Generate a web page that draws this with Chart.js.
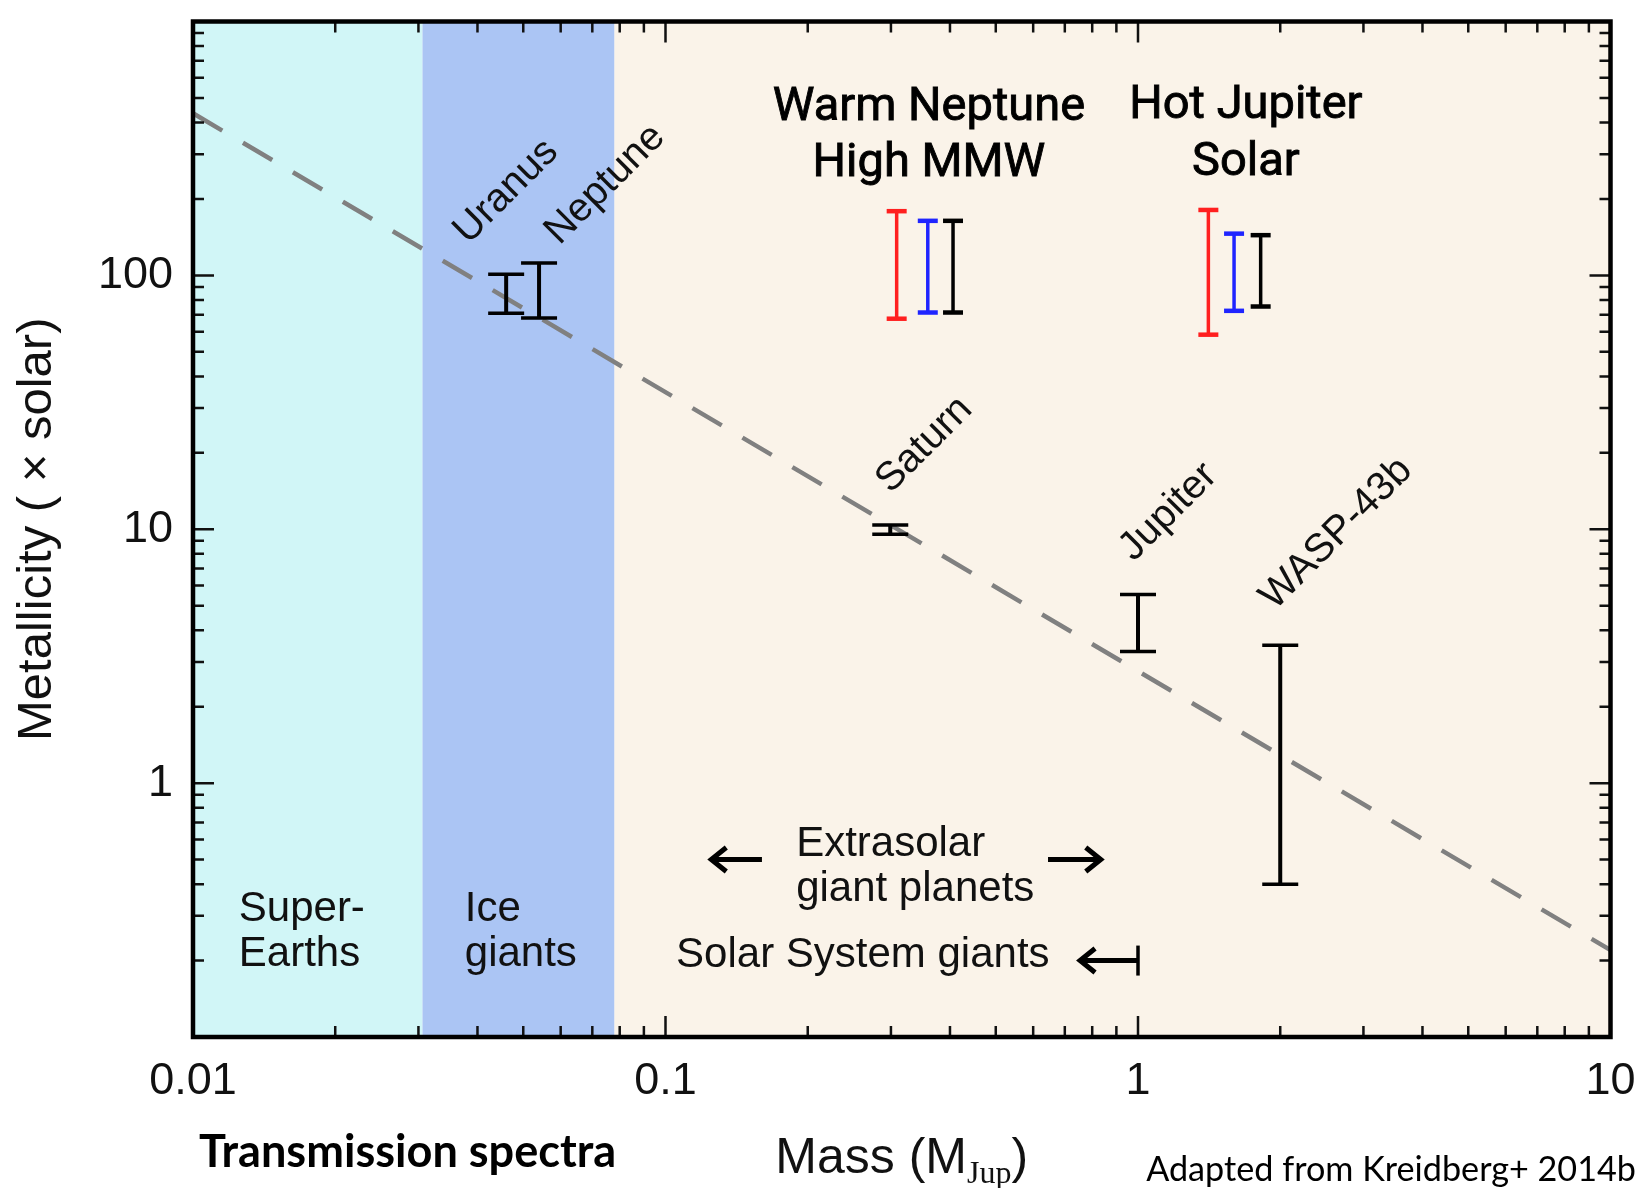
<!DOCTYPE html>
<html>
<head>
<meta charset="utf-8">
<script src="https://cdn.jsdelivr.net/npm/chart.js@4.4.1/dist/chart.umd.min.js"></script>
<style>
  html, body { margin: 0; padding: 0; background: #ffffff; }
  #wrap { width: 1643px; height: 1188px; position: relative; }
  canvas { display: block; }
</style>
</head>
<body>
<div id="wrap"><canvas id="c" width="1643" height="1188" style="width:1643px;height:1188px"></canvas></div>
<script>
// ---------------- DATA ----------------
// Mass ranges of the shaded regions (M_Jup)
const regionNames = ['Super-Earths', 'Ice giants', 'Giant planets'];
const regionFrom  = [0.01, 0.0306, 0.078];
const regionTo    = [0.0306, 0.078, 10];

// Solar-system planets and WASP-43b: mass (M_Jup), metallicity range (x solar)
const planetNames = ['Uranus', 'Neptune', 'Saturn', 'Jupiter', 'WASP-43b'];
const planetMass  = [0.046, 0.054, 0.299, 1.0, 2.0];
const planetZLow  = [71, 68, 9.55, 3.30, 0.40];
const planetZHigh = [101, 112, 10.4, 5.53, 3.49];

// Warm Neptune / High MMW simulated constraints (red, blue, black)
const wnMass  = [0.3085, 0.359, 0.406];
const wnZLow  = [67.5, 71.4, 71.4];
const wnZHigh = [179, 164, 164];

// Hot Jupiter / Solar simulated constraints (red, blue, black)
const hjMass  = [1.409, 1.597, 1.818];
const hjZLow  = [58.4, 72.5, 75.4];
const hjZHigh = [181, 146, 144];

// Mass-metallicity trend (dashed line end points)
const trendMass = [0.01, 10];
const trendZ    = [435, 0.22];

// Axis ticks
const xTickValues = [0.01, 0.1, 1, 10];
const xTickLabels = ['0.01', '0.1', '1', '10'];
const yTickValues = [1, 10, 100];
const yTickLabels = ['1', '10', '100'];

// ---------------- STYLES ----------------
const regionColors = ['#d1f6f7', '#abc5f4', '#faf3e9'];
const simColors = ['#ff1f1f', '#1f24ff', '#000000'];
const SANS = '"Liberation Sans", Arial, Helvetica, sans-serif';
const TXT = '#111111';

function errSet(label, x, lo, hi, color, capHalf, lw, capW) {
  return {
    type: 'line', label: label,
    data: [{x: x, y: lo}, {x: x, y: hi}],
    borderColor: color, borderWidth: lw,
    pointStyle: 'line', pointRadius: capHalf, pointHoverRadius: capHalf,
    pointBorderColor: color, pointBackgroundColor: color, pointBorderWidth: capW,
    tension: 0, fill: false, clip: false
  };
}

const datasets = [];
planetNames.forEach((n, i) => datasets.push(errSet(n, planetMass[i], planetZLow[i], planetZHigh[i], '#000', 18, 4, 3.5)));
wnMass.forEach((m, i) => datasets.push(errSet('WN' + i, m, wnZLow[i], wnZHigh[i], simColors[i], 10, 3.5, 4.5)));
hjMass.forEach((m, i) => datasets.push(errSet('HJ' + i, m, hjZLow[i], hjZHigh[i], simColors[i], 10, 3.5, 4.5)));
datasets.push({
  type: 'line', label: 'trend',
  data: trendMass.map((m, i) => ({x: m, y: trendZ[i]})),
  borderColor: '#808080', borderWidth: 4.5, borderDash: [34, 24],
  pointRadius: 0, tension: 0, fill: false
});

// annotation texts (data coordinates)
const rotLabels = [
  {t: 'Uranus',   x: 0.046,  y: 214},
  {t: 'Neptune',  x: 0.0745, y: 228},
  {t: 'Saturn',   x: 0.353,  y: 21.5},
  {t: 'Jupiter',  x: 1.16,   y: 11.7},
  {t: 'WASP-43b', x: 2.63,   y: 9.6}
];
const leftLabels = [
  {t: 'Super-', x: 0.0125, y: 0.317},
  {t: 'Earths', x: 0.0125, y: 0.211},
  {t: 'Ice', x: 0.0376, y: 0.317},
  {t: 'giants', x: 0.0376, y: 0.211},
  {t: 'Extrasolar', x: 0.189, y: 0.574},
  {t: 'giant planets', x: 0.189, y: 0.383},
  {t: 'Solar System giants', x: 0.1053, y: 0.2094}
];
const headLabels = [
  {t: 'Warm Neptune', x: 0.361, y: 455},
  {t: 'High MMW', x: 0.361, y: 275},
  {t: 'Hot Jupiter', x: 1.692, y: 463},
  {t: 'Solar', x: 1.692, y: 277}
];
const arrows = [
  {x0: 0.16, x1: 0.125, y: 0.5, bar: false},
  {x0: 0.645, x1: 0.834, y: 0.5, bar: false},
  {x0: 1.0, x1: 0.754, y: 0.2, bar: true}
];

// ---------------- PLUGINS ----------------
const bgPlugin = {
  id: 'bg',
  beforeDatasetsDraw(chart) {
    const {ctx, chartArea: a, scales: {x}} = chart;
    ctx.save();
    regionFrom.forEach((f, i) => {
      const x0 = x.getPixelForValue(f), x1 = x.getPixelForValue(regionTo[i]);
      ctx.fillStyle = regionColors[i];
      ctx.fillRect(x0, a.top, x1 - x0, a.bottom - a.top);
    });
    ctx.restore();
  }
};

function logTickList(min, max) {
  const out = [];
  const e0 = Math.round(Math.log10(min)), e1 = Math.round(Math.log10(max));
  for (let e = e0; e < e1; e++) for (let m = 1; m < 10; m++) out.push({v: m * Math.pow(10, e), major: m === 1});
  out.push({v: max, major: true});
  return out;
}

const framePlugin = {
  id: 'frame',
  afterDatasetsDraw(chart) {
    const {ctx, chartArea: a, scales: {x, y}} = chart;
    ctx.save();
    ctx.strokeStyle = '#111';
    ctx.lineWidth = 2.5;
    ctx.beginPath();
    logTickList(x.min, x.max).forEach(t => {
      const px = x.getPixelForValue(t.v), L = t.major ? 21 : 11;
      ctx.moveTo(px, a.bottom); ctx.lineTo(px, a.bottom - L);
      ctx.moveTo(px, a.top); ctx.lineTo(px, a.top + L);
    });
    logTickList(y.min, y.max).forEach(t => {
      const py = y.getPixelForValue(t.v), L = t.major ? 21 : 11;
      ctx.moveTo(a.left, py); ctx.lineTo(a.left + L, py);
      ctx.moveTo(a.right, py); ctx.lineTo(a.right - L, py);
    });
    ctx.stroke();
    ctx.lineWidth = 4.5;
    ctx.strokeStyle = '#000';
    ctx.lineJoin = 'miter';
    ctx.strokeRect(a.left, a.top, a.right - a.left, a.bottom - a.top);
    ctx.restore();
  }
};

function drawArrowHead(ctx, x, y, dir, len, half) {
  ctx.beginPath();
  ctx.moveTo(x - dir * len, y - half);
  ctx.lineTo(x, y);
  ctx.lineTo(x - dir * len, y + half);
  ctx.stroke();
}

const textPlugin = {
  id: 'texts',
  afterDraw(chart) {
    const {ctx, chartArea: a, scales: {x, y}} = chart;
    ctx.save();
    ctx.fillStyle = TXT;
    // rotated planet labels
    ctx.font = '40px ' + SANS;
    ctx.textAlign = 'center'; ctx.textBaseline = 'middle';
    rotLabels.forEach(l => {
      ctx.save();
      ctx.translate(x.getPixelForValue(l.x), y.getPixelForValue(l.y));
      ctx.rotate(-Math.PI / 4);
      ctx.fillText(l.t, 0, 0);
      ctx.restore();
    });
    // left-aligned region labels
    ctx.font = '42px ' + SANS;
    ctx.textAlign = 'left';
    leftLabels.forEach(l => ctx.fillText(l.t, x.getPixelForValue(l.x), y.getPixelForValue(l.y)));
    // headings
    ctx.font = '47px Roboto, "Liberation Sans", sans-serif';
    ctx.fillStyle = '#000'; ctx.strokeStyle = '#000'; ctx.lineWidth = 0.9;
    ctx.textAlign = 'center';
    headLabels.forEach(l => {
      const px = x.getPixelForValue(l.x), py = y.getPixelForValue(l.y);
      ctx.fillText(l.t, px, py);
      ctx.strokeText(l.t, px, py);
    });
    // arrows
    ctx.strokeStyle = '#000'; ctx.lineWidth = 5; ctx.lineCap = 'butt'; ctx.lineJoin = 'miter';
    arrows.forEach(ar => {
      const p0 = x.getPixelForValue(ar.x0), p1 = x.getPixelForValue(ar.x1), py = y.getPixelForValue(ar.y);
      const dir = p1 > p0 ? 1 : -1;
      ctx.beginPath(); ctx.moveTo(p0, py); ctx.lineTo(p1 - dir * 2, py); ctx.stroke();
      drawArrowHead(ctx, p1, py, dir, 15, 12);
      if (ar.bar) {
        ctx.lineWidth = 3.5;
        ctx.beginPath(); ctx.moveTo(p0, py - 15); ctx.lineTo(p0, py + 15); ctx.stroke();
        ctx.lineWidth = 5;
      }
    });
    // x-axis title: Mass (M_Jup)
    const cx = (a.left + a.right) / 2, ty = 1155;
    const f1 = '50px ' + SANS, f2 = '32px "Liberation Serif", "DejaVu Serif", serif';
    ctx.font = f1; const w1 = ctx.measureText('Mass (M').width; const w3 = ctx.measureText(')').width;
    ctx.font = f2; const w2 = ctx.measureText('Jup').width;
    let sx = cx - (w1 + w2 + w3) / 2;
    ctx.textAlign = 'left'; ctx.textBaseline = 'alphabetic'; ctx.fillStyle = TXT;
    const base = ty + 18;
    ctx.font = f1; ctx.fillText('Mass (M', sx, base);
    ctx.font = f2; ctx.fillText('Jup', sx + w1, base + 10);
    ctx.font = f1; ctx.fillText(')', sx + w1 + w2, base);
    // bottom notes
    ctx.fillStyle = '#000';
    ctx.textBaseline = 'alphabetic';
    const BF = 'Lato, "Open Sans", sans-serif';
    ctx.font = 'bold 40px ' + BF;
    let w = ctx.measureText('Transmission spectra').width;
    let fs = 40 * 417 / w;
    ctx.font = 'bold ' + fs.toFixed(1) + 'px ' + BF;
    ctx.fillText('Transmission spectra', 199, 1167);
    ctx.font = '30px Lato, "Open Sans", sans-serif';
    w = ctx.measureText('Adapted from Kreidberg+ 2014b').width;
    fs = 30 * 490 / w;
    ctx.font = fs.toFixed(1) + 'px Lato, "Open Sans", sans-serif';
    ctx.textAlign = 'right';
    ctx.fillText('Adapted from Kreidberg+ 2014b', 1636, 1181);
    ctx.restore();
  }
};

// ---------------- CHART ----------------
new Chart(document.getElementById('c'), {
  data: {datasets: datasets},
  options: {
    responsive: false,
    animation: false,
    devicePixelRatio: 1,
    layout: {padding: {top: 14.7, right: 32.5, left: 0, bottom: 0}},
    plugins: {legend: {display: false}, tooltip: {enabled: false}},
    events: [],
    scales: {
      x: {
        type: 'logarithmic', position: 'bottom', min: 0.01, max: 10,
        grid: {display: false, drawTicks: false, tickLength: 0},
        border: {display: false},
        afterBuildTicks: s => { s.ticks = xTickValues.map(v => ({value: v})); },
        afterFit: s => { s.height = 151; s.paddingLeft = 0; s.paddingRight = 0; },
        ticks: {
          autoSkip: false, maxRotation: 0, minRotation: 0, padding: 18,
          color: TXT, font: {family: SANS, size: 45},
          callback: (v, i) => xTickLabels[i]
        }
      },
      y: {
        type: 'logarithmic', position: 'left', min: 0.1, max: 1000,
        grid: {display: false, drawTicks: false, tickLength: 0},
        border: {display: false},
        afterBuildTicks: s => { s.ticks = yTickValues.map(v => ({value: v})); },
        afterFit: s => { s.width = 193; s.paddingTop = 0; s.paddingBottom = 0; },
        ticks: {
          autoSkip: false, padding: 20,
          color: TXT, font: {family: SANS, size: 45},
          callback: (v, i) => yTickLabels[i]
        },
        title: {
          display: true, text: 'Metallicity ( \u00d7 solar)', color: TXT,
          font: {family: SANS, size: 49}, padding: {top: 8, bottom: 0}
        }
      }
    }
  },
  plugins: [bgPlugin, framePlugin, textPlugin]
});
</script>
</body>
</html>
